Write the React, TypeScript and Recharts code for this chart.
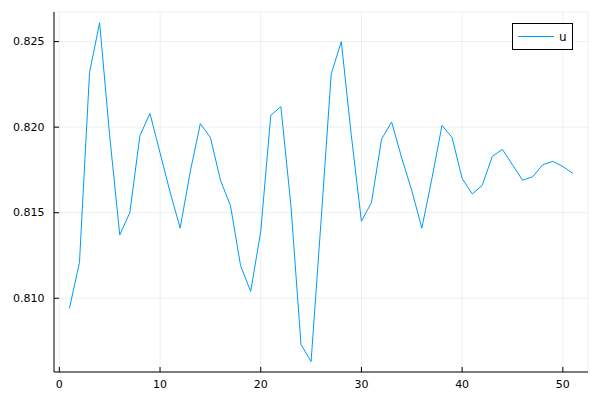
import { CartesianGrid, Legend, Line, LineChart, XAxis, YAxis } from 'recharts';

const steps = [
  1, 2, 3, 4, 5, 6, 7, 8, 9, 10, 11, 12, 13, 14, 15, 16, 17, 18, 19, 20, 21, 22, 23, 24, 25, 26,
  27, 28, 29, 30, 31, 32, 33, 34, 35, 36, 37, 38, 39, 40, 41, 42, 43, 44, 45, 46, 47, 48, 49, 50, 51,
];
const uValues = [
  0.8094, 0.8121, 0.8232, 0.8261, 0.8195, 0.8137, 0.815, 0.8195, 0.8208, 0.8185, 0.8162, 0.8141, 0.8174,
  0.8202, 0.8194, 0.8169, 0.8154, 0.8119, 0.8104, 0.8139, 0.8207, 0.8212, 0.8154, 0.8073, 0.8063, 0.8146,
  0.8231, 0.825, 0.8195, 0.8145, 0.8156, 0.8193, 0.8203, 0.8182, 0.8163, 0.8141, 0.817, 0.8201, 0.8194,
  0.817, 0.8161, 0.8166, 0.8183, 0.8187, 0.8178, 0.8169, 0.8171, 0.8178, 0.818, 0.8177, 0.8173,
];
const xTicks = [0, 10, 20, 30, 40, 50];
const yTicks = [0.81, 0.815, 0.82, 0.825];

const data = steps.map((x, i) => ({ x, u: uValues[i] }));

const font = 'DejaVu Sans';
const lineColor = '#009AFA';

// Plots.jl style ticks: short marks pointing into the plot
function YTick(props: any) {
  const { x, y, payload } = props;
  const axisX = x + 9.5;
  return (
    <g>
      <line x1={axisX} x2={axisX + 5} y1={y} y2={y} stroke='#000' />
      <text x={x} y={y} textAnchor='end' dominantBaseline='central' fontSize={11} fontFamily={font} fill='#000'>
        {payload.value.toFixed(3)}
      </text>
    </g>
  );
}

function XTick(props: any) {
  const { x, y, payload } = props;
  const axisY = y - 8;
  return (
    <g>
      <line x1={x} x2={x} y1={axisY} y2={axisY - 5} stroke='#000' />
      <text x={x} y={y + 8} textAnchor='middle' fontSize={11} fontFamily={font} fill='#000'>
        {payload.value}
      </text>
    </g>
  );
}

function LegendBox() {
  return (
    <div
      style={{
        width: 59,
        height: 25,
        border: '1px solid #000',
        background: '#fff',
        position: 'relative',
        fontFamily: font,
        fontSize: 12,
      }}
    >
      <svg width={59} height={25} style={{ position: 'absolute', left: 0, top: 0 }}>
        <line x1={5} x2={41} y1={12.5} y2={12.5} stroke={lineColor} strokeWidth={1} />
        <text x={46} y={12.5} dominantBaseline='central' fontSize={12} fontFamily={font} fill='#000'>
          u
        </text>
      </svg>
    </div>
  );
}

export default function App() {
  return (
    <div style={{ position: 'absolute', left: 0, top: 0, background: '#fff' }}>
      <LineChart width={600} height={400} data={data} margin={{ top: 12, right: 12, left: 0, bottom: 0 }}>
        <CartesianGrid stroke='#000' strokeOpacity={0.065} />
        <XAxis
          dataKey='x'
          type='number'
          domain={[-0.53, 52.5]}
          ticks={xTicks}
          allowDataOverflow
          height={28}
          tickSize={0}
          tickMargin={8}
          tickLine={false}
          axisLine={{ stroke: '#000' }}
          tick={<XTick />}
        />
        <YAxis
          type='number'
          domain={[0.80569, 0.82673]}
          ticks={yTicks}
          allowDataOverflow
          width={54}
          tickSize={0}
          tickMargin={9.5}
          tickLine={false}
          axisLine={{ stroke: '#000' }}
          tick={<YTick />}
        />
        <Legend
          layout='vertical'
          align='center'
          verticalAlign='middle'
          wrapperStyle={{ left: 512, top: 23, width: 61 }}
          content={<LegendBox />}
        />
        <Line
          type='linear'
          dataKey='u'
          stroke={lineColor}
          strokeWidth={1}
          dot={false}
          activeDot={false}
          isAnimationActive={false}
        />
      </LineChart>
    </div>
  );
}
